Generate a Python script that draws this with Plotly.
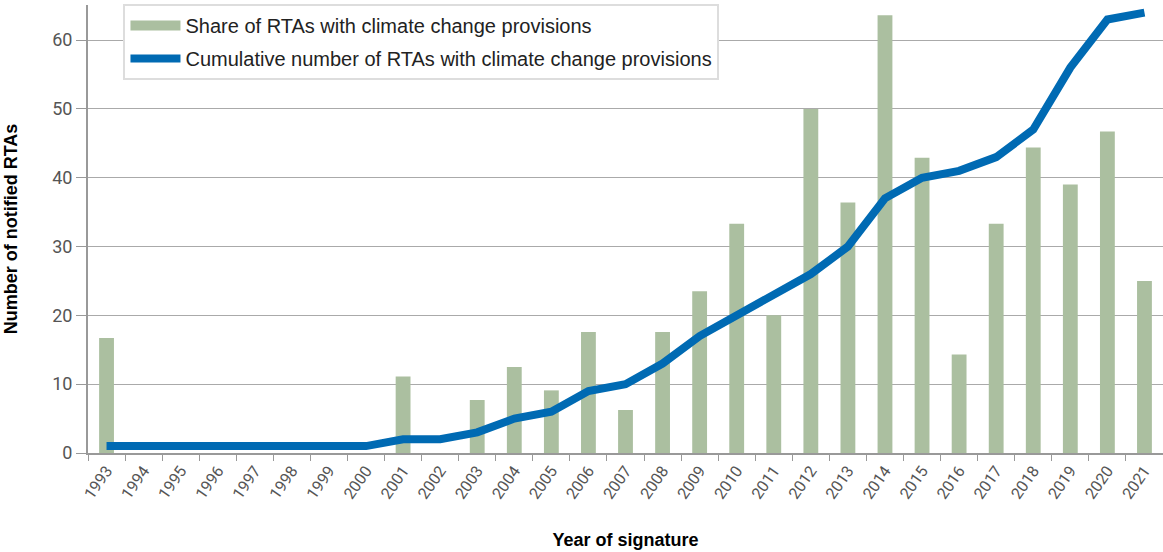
import plotly.graph_objects as go

years = [str(y) for y in range(1993, 2022)]
share = [16.7, 0, 0, 0, 0, 0, 0, 0, 11.1, 0, 7.7, 12.5, 9.1, 17.6, 6.25, 17.6,
         23.5, 33.3, 20.0, 50.0, 36.4, 63.6, 42.9, 14.3, 33.3, 44.4, 39.0, 46.7, 25.0]
cumulative = [1, 1, 1, 1, 1, 1, 1, 1, 2, 2, 3, 5, 6, 9, 10, 13,
              17, 20, 23, 26, 30, 37, 40, 41, 43, 47, 56, 63, 64]
y_ticks = [0, 10, 20, 30, 40, 50, 60]

GREEN = "#abbfa0"
BLUE = "#006ab3"

fig = go.Figure()
fig.add_trace(go.Bar(
    x=years, y=share, name="Share of RTAs with climate change provisions",
    marker=dict(color=GREEN, line=dict(width=0)), width=0.4,
    showlegend=False,
))
# legend entry drawn as a wide green swatch
fig.add_trace(go.Scatter(
    x=[None], y=[None], name="Share of RTAs with climate change provisions",
    mode="lines", line=dict(color=GREEN, width=10), legendgroup="a",
))
fig.add_trace(go.Scatter(
    x=years, y=cumulative, name="Cumulative number of RTAs with climate change provisions",
    mode="lines", line=dict(color=BLUE, width=8),
    legendgroup="b",
))

fig.update_layout(
    width=1163, height=552,
    margin=dict(l=88, r=0, t=5, b=99, autoexpand=False),
    plot_bgcolor="white", paper_bgcolor="white",
    showlegend=True,
    legend=dict(
        x=0.033, y=1.002, xanchor="left", yanchor="top",
        bgcolor="white", bordercolor="#dddddd", borderwidth=2,
        font=dict(family="Liberation Sans, Arial, sans-serif", size=20, color="#222"),
        itemwidth=50, tracegroupgap=4,
    ),
    bargap=0.6,
)
fig.update_xaxes(
    type="category", range=[-0.5, 28.5], tickangle=-55, tickson="boundaries",
    ticks="outside", ticklen=6, tickcolor="#999", automargin=False,
    showline=True, linecolor="#999", linewidth=2,
    tickfont=dict(family="Roboto, sans-serif", size=16, color="#555"),
    title=dict(text="<b>Year of signature</b>", font=dict(family="Liberation Sans, Arial", size=18, color="#000"), standoff=32),
    showgrid=False,
)
fig.update_yaxes(
    range=[0, 65.1], tickvals=y_ticks, automargin=False,
    ticks="outside", ticklen=10, tickcolor="#999",
    showline=True, linecolor="#999", linewidth=2,
    showgrid=True, gridcolor="#aaaaaa", gridwidth=1,
    zeroline=False,
    tickfont=dict(family="Roboto, sans-serif", size=18, color="#555"),
    title=dict(text="<b>Number of notified RTAs</b>", font=dict(family="Liberation Sans, Arial", size=18, color="#000"), standoff=30),
)

fig.write_html("out.html", config={"displayModeBar": False},
               post_script="document.body.style.margin='0';")
